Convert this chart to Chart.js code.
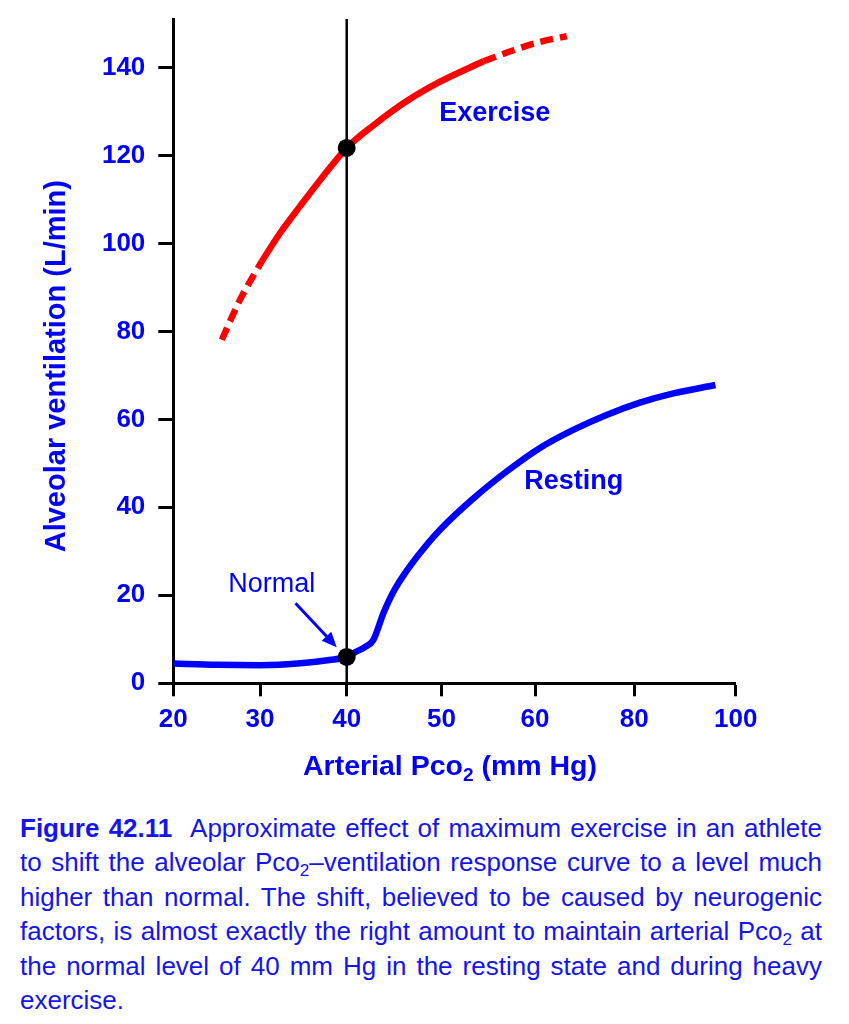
<!DOCTYPE html>
<html><head><meta charset="utf-8">
<script src="https://cdn.jsdelivr.net/npm/chart.js@4.4.1/dist/chart.umd.min.js"></script>
<style>
html,body{margin:0;padding:0;background:#fff;width:849px;height:1024px;overflow:hidden;}
#wrap{position:relative;width:849px;height:1024px;}
#chart{position:absolute;left:0;top:0;}
#caption{position:absolute;left:20px;top:811px;width:802px;font-family:"Liberation Sans",Arial,Helvetica,sans-serif;font-size:26px;color:#1414f0;line-height:34.4px;}
#caption .ln{white-space:nowrap;display:block;}
#caption sub{font-size:0.66em;vertical-align:-0.28em;line-height:0;}
#caption b{margin-right:10px;}
</style></head>
<body>
<div id="wrap">
<canvas id="chart" width="849" height="800"></canvas>
<div id="caption">
<span class="ln j"><b>Figure 42.11</b> Approximate effect of maximum exercise in an athlete</span>
<span class="ln j">to shift the alveolar Pco<sub>2</sub>–ventilation response curve to a level much</span>
<span class="ln j">higher than normal. The shift, believed to be caused by neurogenic</span>
<span class="ln j">factors, is almost exactly the right amount to maintain arterial Pco<sub>2</sub> at</span>
<span class="ln j">the normal level of 40 mm Hg in the resting state and during heavy</span>
<span class="ln">exercise.</span>
</div>
</div>
<script>
// ---------- data ----------
const xTickLabels = [20, 30, 40, 50, 60, 80, 100];
const yTickLabels = [0, 20, 40, 60, 80, 100, 120, 140];

const restingPco2 = [20, 25, 30, 35, 38, 40, 41, 41.9, 42.8, 43.9, 44.9, 46.3, 48.1, 49.8, 53.4, 57.0, 61.0, 67.7, 74.4, 81.1, 87.7, 96];
const restingVent = [4.5, 4.2, 4.1, 4.6, 5.3, 6.0, 7.2, 8.2, 9.8, 16.1, 20.7, 25.5, 30.6, 34.8, 42.0, 48.2, 53.5, 57.6, 61.0, 63.8, 65.9, 67.8];

const exerciseLowPco2 = [25.6, 27.7, 30.2];
const exerciseLowVent = [78.1, 87.2, 95.9];
const exercisePco2 = [30.2, 32.3, 34.6, 36.9, 40, 42.8, 46.3, 49.8, 54.5];
const exerciseVent = [95.9, 102.3, 108.4, 114.3, 121.7, 126.8, 132.3, 136.7, 141.4];
const exerciseHighPco2 = [54.5, 57.7, 61.0, 66.4];
const exerciseHighVent = [141.4, 143.9, 145.8, 147.1];

const normalPco2 = [40, 40];
const normalVent = [6.0, 121.7];

const referencePco2 = 40;
const yMax = 151;

// ---------- layout (irregular x-axis tick spacing of the original) ----------
const xTickOffsets = [0, 86.7, 173.4, 268.2, 361.7, 461.0, 562.4];
function xPos(v) {
  for (let i = 0; i < xTickLabels.length - 1; i++) {
    const a = xTickLabels[i], b = xTickLabels[i + 1];
    if (v <= b || i === xTickLabels.length - 2) {
      const t = (v - a) / (b - a);
      return xTickOffsets[i] + t * (xTickOffsets[i + 1] - xTickOffsets[i]);
    }
  }
}
const pts = (xs, ys) => xs.map((x, i) => ({ x: xPos(x), y: ys[i] }));

const annotations = [
  { text: 'Exercise', pco2: 55.7, vent: 129.5, bold: true },
  { text: 'Resting', pco2: 67.8, vent: 45.8, bold: true },
  { text: 'Normal', pco2: 31.35, vent: 22.4, bold: false }
];
const arrow = { from: [34.1, 18.2], to: [38.85, 8.2] };

const BLUE = '#0000ff', RED = '#ff0000', FONT = '"Liberation Sans", Arial, Helvetica, sans-serif';

const overlay = {
  id: 'overlay',
  afterDraw(chart) {
    const ctx = chart.ctx, xs = chart.scales.x, ys = chart.scales.y, ca = chart.chartArea;
    ctx.save();
    ctx.fillStyle = BLUE;
    ctx.textAlign = 'center';
    ctx.textBaseline = 'middle';
    annotations.forEach(a => {
      ctx.font = (a.bold ? 'bold ' : '') + '27px ' + FONT;
      ctx.fillText(a.text, xs.getPixelForValue(xPos(a.pco2)), ys.getPixelForValue(a.vent));
    });
    // arrow
    const x1 = xs.getPixelForValue(xPos(arrow.from[0])), y1 = ys.getPixelForValue(arrow.from[1]);
    const x2 = xs.getPixelForValue(xPos(arrow.to[0])), y2 = ys.getPixelForValue(arrow.to[1]);
    const ang = Math.atan2(y2 - y1, x2 - x1), hl = 15, hw = 6.5;
    const bx = x2 - hl * Math.cos(ang), by = y2 - hl * Math.sin(ang);
    ctx.strokeStyle = BLUE; ctx.lineWidth = 3;
    ctx.beginPath(); ctx.moveTo(x1, y1); ctx.lineTo(bx, by); ctx.stroke();
    ctx.beginPath();
    ctx.moveTo(x2, y2);
    ctx.lineTo(bx + hw * Math.sin(ang), by - hw * Math.cos(ang));
    ctx.lineTo(bx - hw * Math.sin(ang), by + hw * Math.cos(ang));
    ctx.closePath(); ctx.fill();

    // y title
    ctx.font = 'bold 29px ' + FONT;
    ctx.save();
    ctx.translate(ca.left - 116.8, (ca.top + ca.bottom) / 2 + 15);
    ctx.rotate(-Math.PI / 2);
    ctx.fillText('Alveolar ventilation (L/min)', 0, 0);
    ctx.restore();

    // x title with subscript
    const p1 = 'Arterial Pco', p2 = '2', p3 = ' (mm Hg)';
    const f1 = 'bold 28.5px ' + FONT, f2 = 'bold 19px ' + FONT;
    ctx.font = f1; const w1 = ctx.measureText(p1).width, w3 = ctx.measureText(p3).width;
    ctx.font = f2; const w2 = ctx.measureText(p2).width;
    let sx = (ca.left + ca.right) / 2 - 4.5 - (w1 + w2 + w3) / 2;
    const ty = ca.bottom + 83.7;
    ctx.textAlign = 'left';
    ctx.font = f1; ctx.fillText(p1, sx, ty); sx += w1;
    ctx.font = f2; ctx.fillText(p2, sx, ty + 8.5); sx += w2;
    ctx.font = f1; ctx.fillText(p3, sx, ty);
    ctx.restore();
  }
};

new Chart(document.getElementById('chart'), {
  type: 'line',
  data: {
    datasets: [
      { data: pts(normalPco2, normalVent), showLine: false, pointRadius: 9, pointBackgroundColor: '#000', pointBorderWidth: 0, order: 0, clip: false },
      { data: pts(restingPco2, restingVent), borderColor: BLUE, borderWidth: 6.5, pointRadius: 0, cubicInterpolationMode: 'monotone', order: 1 },
      { data: pts(exercisePco2, exerciseVent), borderColor: RED, borderWidth: 6.5, pointRadius: 0, cubicInterpolationMode: 'monotone', order: 1 },
      { data: pts(exerciseLowPco2, exerciseLowVent), borderColor: RED, borderWidth: 6.5, borderDash: [13, 7], pointRadius: 0, cubicInterpolationMode: 'monotone', order: 1 },
      { data: pts(exerciseHighPco2, exerciseHighVent), borderColor: RED, borderWidth: 6.5, borderDash: [13, 7], pointRadius: 0, cubicInterpolationMode: 'monotone', order: 1 },
      { data: [{ x: xPos(referencePco2), y: 0 }, { x: xPos(referencePco2), y: yMax }], borderColor: '#000', borderWidth: 2.5, pointRadius: 0, order: 2, clip: false }
    ]
  },
  options: {
    responsive: false,
    animation: false,
    devicePixelRatio: 1,
    layout: { padding: { top: 19, right: 113.3, left: 0, bottom: 0 } },
    plugins: { legend: { display: false }, tooltip: { enabled: false } },
    scales: {
      x: {
        type: 'linear', min: 0, max: xTickOffsets[xTickOffsets.length - 1],
        afterBuildTicks: s => { s.ticks = xTickOffsets.map(v => ({ value: v })); },
        afterFit: s => { s.height = 116.7; s.paddingLeft = 0; s.paddingRight = 0; },
        grid: { drawOnChartArea: false, drawTicks: true, tickLength: 13, tickWidth: 3, tickColor: '#000' },
        border: { display: true, color: '#000', width: 3 },
        ticks: { autoSkip: false, maxRotation: 0, padding: 8, color: BLUE, font: { family: FONT, size: 26, weight: 'bold' },
          callback: (v, i) => String(xTickLabels[i]) }
      },
      y: {
        type: 'linear', min: 0, max: yMax,
        afterBuildTicks: s => { s.ticks = yTickLabels.map(v => ({ value: v })); },
        afterFit: s => { s.width = 173.3; s.paddingTop = 0; s.paddingBottom = 0; },
        grid: { drawOnChartArea: false, drawTicks: true, tickLength: 15, tickWidth: 3, tickColor: '#000' },
        border: { display: true, color: '#000', width: 3 },
        ticks: { autoSkip: false, padding: 13, color: BLUE, font: { family: FONT, size: 26, weight: 'bold' },
          callback: (v, i) => String(yTickLabels[i]) }
      }
    }
  },
  plugins: [overlay]
});

// justify caption lines exactly across the caption width
function justify() {
  document.querySelectorAll('#caption .ln.j').forEach(el => {
    el.style.wordSpacing = '0px';
    el.style.display = 'inline-block';
    const w = el.getBoundingClientRect().width;
    el.style.display = 'block';
    const n = (el.textContent.trim().match(/ /g) || []).length;
    el.style.wordSpacing = ((802 - w) / n) + 'px';
  });
}
justify();
if (document.fonts && document.fonts.ready) document.fonts.ready.then(justify);
</script>
</body></html>
